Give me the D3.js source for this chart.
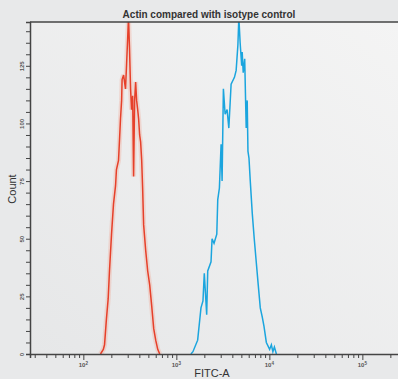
<!DOCTYPE html>
<html>
<head>
<meta charset="utf-8">
<script src="https://cdn.jsdelivr.net/npm/d3@7/dist/d3.min.js"></script>
<style>
  body { margin: 0; background: #e8e9ea; }
  svg { display: block; font-family: "Liberation Sans", Arial, sans-serif; }
</style>
</head>
<body>
<svg id="chart" width="398" height="379"></svg>
<script>
// isotype control (red) - FITC intensity vs count
const redFitc = [153, 164, 169, 177, 185, 191, 201, 211, 222, 227, 239, 245, 251, 258, 261, 271, 284, 292, 299, 306, 314, 322, 330, 339, 347, 356, 365, 374, 384, 393, 403, 413, 424, 434, 445, 468, 492, 517, 543, 571, 600, 631, 663];
const redCount = [0, 2, 4, 15, 24, 36, 52, 65, 73, 80, 84, 93, 102, 110, 119, 121, 115, 126, 136, 146, 132, 115, 106, 112, 77, 110, 118, 110, 106, 102, 95, 92, 84, 72, 56, 45, 36, 30, 21, 11, 6, 2, 0];

// actin (blue)
const blueFitc = [1435, 1508, 1695, 1840, 1933, 1998, 2120, 2175, 2360, 2421, 2543, 2722, 2788, 2904, 3028, 3104, 3206, 3345, 3513, 3668, 3880, 4215, 4396, 4590, 4700, 4853, 5042, 5106, 5236, 5433, 5546, 5640, 5780, 5888, 6039, 6237, 6552, 6880, 7227, 7596, 7990, 8395, 8760, 9285, 10070, 10510, 10920, 11330, 11910];
const blueCount = [0, 1, 6, 20, 23, 35, 17, 36, 40, 50, 48, 52, 67, 72, 91, 75, 115, 104, 106, 98, 117, 120, 123, 134, 146, 135, 125, 131, 122, 128, 111, 98, 110, 88, 85, 75, 61, 50, 40, 30, 20, 16, 12, 5, 2, 4, 1, 3, 0];

const yMajor = [0, 25, 50, 75, 100, 125];
const xMajor = [2, 3, 4, 5]; // decades, labelled 10^n

const title = 'Actin compared with isotype control';

const svg = d3.select('#chart');
const mLeft = 30, mTop = 22, mRight = 400, mBottom = 354;

const x = d3.scaleLog().domain([26.7, 254000]).range([mLeft, mRight]);
const y = d3.scaleLinear().domain([0, 144]).range([mBottom, mTop]);

// plot background
const defs = svg.append('defs');
const grad = defs.append('linearGradient').attr('id', 'bg')
  .attr('x1', '0%').attr('y1', '100%').attr('x2', '100%').attr('y2', '0%');
grad.append('stop').attr('offset', '0%').attr('stop-color', '#e6e7e8');
grad.append('stop').attr('offset', '100%').attr('stop-color', '#f4f4f4');
defs.append('clipPath').attr('id', 'clip')
  .append('rect').attr('x', mLeft).attr('y', mTop).attr('width', mRight - mLeft).attr('height', mBottom - mTop);

svg.append('rect')
  .attr('x', mLeft).attr('y', mTop)
  .attr('width', mRight - mLeft).attr('height', mBottom - mTop)
  .attr('fill', 'url(#bg)');

// histograms
const line = d3.line().x(d => x(d[0])).y(d => y(d[1]));
const plot = svg.append('g').attr('clip-path', 'url(#clip)');

const redData = d3.zip(redFitc, redCount);
const blueData = d3.zip(blueFitc, blueCount);

plot.append('path').datum(redData)
  .attr('d', line).attr('fill', 'none')
  .attr('stroke', '#f3a08a').attr('stroke-opacity', 0.3).attr('stroke-width', 5);
plot.append('path').datum(redData)
  .attr('d', line).attr('fill', 'none')
  .attr('stroke', '#e6402a').attr('stroke-width', 1.5);
plot.append('path').datum(blueData)
  .attr('d', line).attr('fill', 'none')
  .attr('stroke', '#1ba5de').attr('stroke-width', 1.5);

// top border
svg.append('line')
  .attr('x1', mLeft).attr('x2', mRight).attr('y1', mTop).attr('y2', mTop)
  .attr('stroke', '#444').attr('stroke-width', 1.5);

// y axis
const yAxis = d3.axisLeft(y)
  .tickValues(d3.range(0, 145, 5))
  .tickSize(4)
  .tickFormat(d => yMajor.includes(d) ? d : '');

const gy = svg.append('g')
  .attr('transform', 'translate(' + mLeft + ',0)')
  .call(yAxis);
gy.select('.domain').attr('stroke', '#444').attr('stroke-width', 1.5);
gy.selectAll('.tick line').attr('stroke', '#444');
gy.selectAll('.tick text')
  .attr('transform', 'rotate(-90)')
  .attr('x', 0).attr('y', -6).attr('dy', 0)
  .attr('text-anchor', 'middle')
  .attr('fill', '#555')
  .style('font-size', '6px').style('font-weight', 'bold');

// x axis
const xTicks = [];
for (let e = 1; e <= 5; e++) {
  for (let m = 1; m <= 9; m++) {
    const v = m * Math.pow(10, e);
    if (v >= x.domain()[0] && v <= x.domain()[1]) xTicks.push(v);
  }
}
const isMajor = v => xMajor.some(e => Math.abs(v - Math.pow(10, e)) < 1e-6);

const xAxis = d3.axisBottom(x)
  .tickValues(xTicks)
  .tickSize(4)
  .tickFormat('');

const gx = svg.append('g')
  .attr('transform', 'translate(0,' + mBottom + ')')
  .call(xAxis);
gx.select('.domain').attr('stroke', '#444').attr('stroke-width', 1.5);
gx.selectAll('.tick line').attr('stroke', '#444')
  .attr('y2', d => isMajor(d) ? 6 : 4);

xMajor.forEach(e => {
  const t = svg.append('text')
    .attr('x', x(Math.pow(10, e)))
    .attr('y', mBottom + 13)
    .attr('text-anchor', 'middle')
    .attr('fill', '#555')
    .style('font-size', '6px').style('font-weight', 'bold')
    .text('10');
  t.append('tspan').attr('dy', -2.5).style('font-size', '4.5px').text(e);
});

// labels
svg.append('text')
  .attr('x', 209).attr('y', 18)
  .attr('text-anchor', 'middle')
  .attr('fill', '#333')
  .style('font-size', '10px').style('font-weight', 'bold')
  .text(title);

svg.append('text')
  .attr('transform', 'translate(16,189) rotate(-90)')
  .attr('text-anchor', 'middle')
  .attr('fill', '#333')
  .style('font-size', '11px')
  .text('Count');

svg.append('text')
  .attr('x', 212).attr('y', 377)
  .attr('text-anchor', 'middle')
  .attr('fill', '#333')
  .style('font-size', '11px')
  .text('FITC-A');
</script>
</body>
</html>
